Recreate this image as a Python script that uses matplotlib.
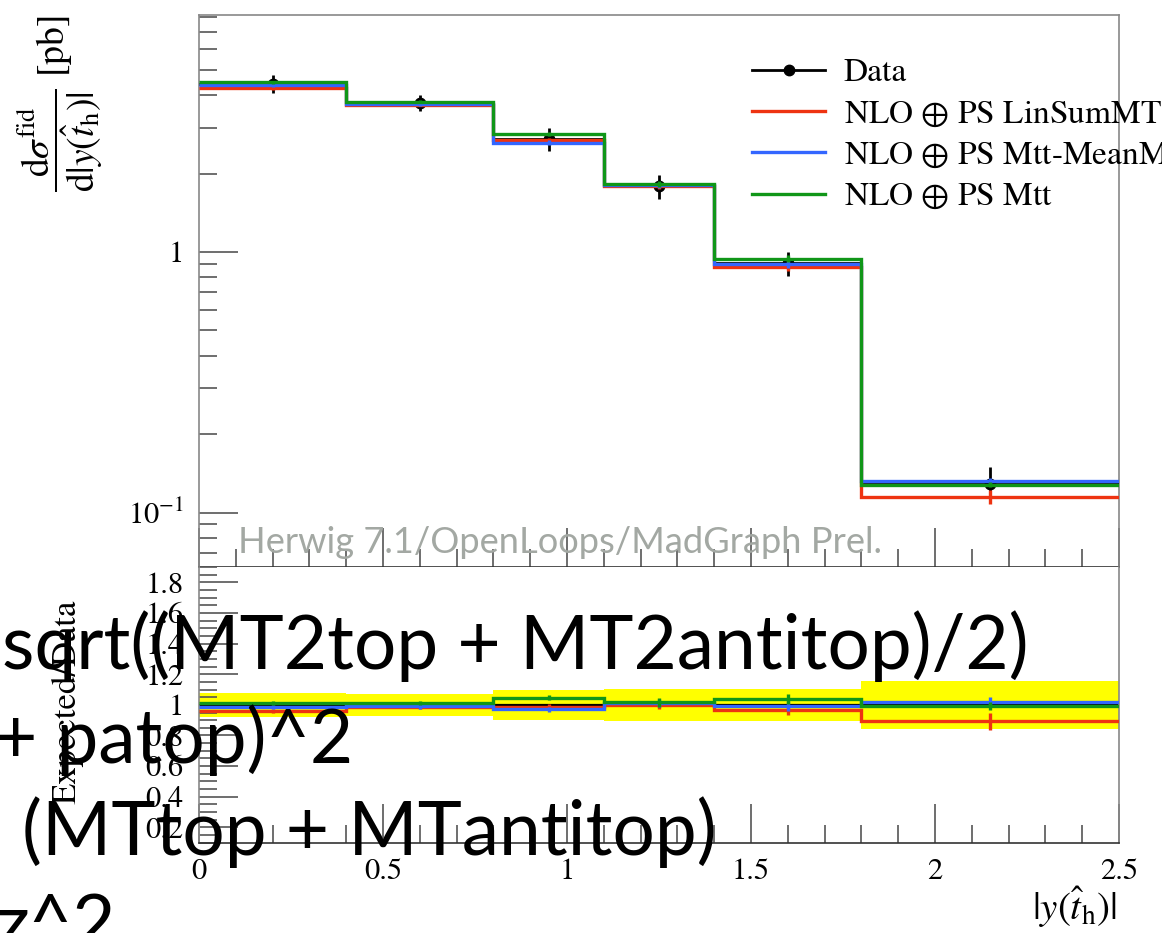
#!/usr/bin/env python3
"""Top-quark rapidity |y(t_h)|: data vs. three NLO+PS scale choices, with ratio panel."""

import matplotlib

matplotlib.use("Agg")
import matplotlib.pyplot as plt
import numpy as np
from matplotlib.lines import Line2D
from matplotlib.ticker import FixedLocator, FuncFormatter, MultipleLocator

# binning in |y(t_h)|
EDGES = [0.0, 0.4, 0.8, 1.1, 1.4, 1.8, 2.5]

# measured cross section [pb] and its uncertainty
DATA = [4.42, 3.73, 2.71, 1.79, 0.907, 0.129]
DATA_ERR = [0.35, 0.26, 0.27, 0.19, 0.095, 0.020]

# predictions [pb]
LINSUM = [4.25, 3.68, 2.68, 1.79, 0.878, 0.115]
MEANMT = [4.36, 3.69, 2.63, 1.81, 0.899, 0.1316]
MTT = [4.48, 3.77, 2.84, 1.82, 0.942, 0.128]
LINSUM_ERR = [0.06, 0.05, 0.05, 0.05, 0.03, 0.0075]
MEANMT_ERR = [0.06, 0.05, 0.05, 0.05, 0.03, 0.004]
MTT_ERR = [0.06, 0.05, 0.05, 0.05, 0.03, 0.003]

LABELS = [
    r"NLO $\oplus$ PS LinSumMT",
    r"NLO $\oplus$ PS Mtt-MeanMT",
    r"NLO $\oplus$ PS Mtt",
]
COLORS = ["#EE3311", "#3366FF", "#109618"]

SCALE_TEXT = [
    "sqrt((MT2top + MT2antitop)/2)",
    "+ patop)^2",
    "(MTtop + MTantitop)",
    "z^2",
]

W, H = 1162, 933


def fx(px):
    return px / W


def fy(py):
    return 1 - py / H


def main():
    plt.rcParams.update(
        {
            "font.family": "serif",
            "font.serif": ["STIXGeneral", "DejaVu Serif"],
            "mathtext.fontset": "stix",
            "font.size": 16,
            "axes.linewidth": 1.2,
        }
    )
    fig = plt.figure(figsize=(W / 100, H / 100), dpi=100)
    ax = fig.add_axes([fx(199), fy(567), fx(1119) - fx(199), fy(15) - fy(567)])
    rax = fig.add_axes([fx(199), fy(842.7), fx(1119) - fx(199), fy(567) - fy(842.7)])

    edges = np.array(EDGES)
    centers = 0.5 * (edges[1:] + edges[:-1])
    half = 0.5 * np.diff(edges)
    data = np.array(DATA)
    data_err = np.array(DATA_ERR)
    models = [np.array(v) for v in (LINSUM, MEANMT, MTT)]
    model_errs = [np.array(v) for v in (LINSUM_ERR, MEANMT_ERR, MTT_ERR)]

    # main panel
    ax.errorbar(centers, data, xerr=half, yerr=data_err, fmt="o", color="black",
                ms=7.5, lw=2, capsize=0, zorder=3)
    for vals, errs, color in zip(models, model_errs, COLORS):
        ax.stairs(vals, edges, baseline=None, color=color, lw=2.4, zorder=4)
        ax.errorbar(centers, vals, yerr=errs, fmt="none", ecolor=color, lw=2.4,
                    capsize=0, zorder=4)

    ax.set_yscale("log")
    ax.set_xlim(0, 2.5)
    ax.set_ylim(0.0618, 8.12)
    ax.yaxis.set_major_locator(FixedLocator([0.1, 1]))
    ax.yaxis.set_major_formatter(FuncFormatter(lambda v, _: "1" if v == 1 else r"$10^{-1}$"))
    ax.yaxis.set_minor_locator(FixedLocator([0.07, 0.08, 0.09] + [k / 10 for k in range(2, 10)]
                                            + list(range(2, 9))))
    ax.yaxis.set_minor_formatter(plt.NullFormatter())
    ax.xaxis.set_major_locator(MultipleLocator(0.5))
    ax.xaxis.set_minor_locator(MultipleLocator(0.1))
    ax.tick_params(axis="x", labelbottom=False)

    handles = [Line2D([0], [0], color="black", lw=2, marker="o", ms=7.5)]
    handles += [Line2D([0], [0], color=c, lw=2.4) for c in COLORS]
    ax.legend(handles, ["Data"] + LABELS, loc="upper left",
              bbox_to_anchor=((752 - 199) / 920, (567 - 58) / 552), frameon=False,
              fontsize=24, handlelength=2.2, handletextpad=0.55, labelspacing=0.33,
              borderaxespad=0, borderpad=0)

    fig.text(fx(238), fy(553), "Herwig 7.1/OpenLoops/MadGraph Prel.", family="Lato",
             fontsize=26.1, color="#A3A8A3", va="baseline", ha="left", zorder=10)

    # ratio panel
    rel = data_err / data
    rax.stairs(1 + rel, edges, baseline=1 - rel, fill=True, color="#FFFF00", lw=0, zorder=1)
    rax.hlines(np.ones_like(centers), edges[:-1], edges[1:], color="black", lw=1.6, zorder=2)
    for vals, errs, color in zip(models, model_errs, COLORS):
        ratio = vals / data
        rax.stairs(ratio, edges, baseline=None, color=color, lw=2.4, zorder=3)
        rax.errorbar(centers, ratio, yerr=errs / data, fmt="none", ecolor=color, lw=2.4,
                     capsize=0, zorder=3)
    rax.set_xlim(0, 2.5)
    rax.set_ylim(0.1, 1.9)
    rax.yaxis.set_major_locator(MultipleLocator(0.2))
    rax.yaxis.set_minor_locator(MultipleLocator(0.05))
    rax.yaxis.set_major_formatter(FuncFormatter(lambda v, _: f"{v:g}"))
    rax.xaxis.set_major_locator(MultipleLocator(0.5))
    rax.xaxis.set_minor_locator(MultipleLocator(0.1))
    rax.xaxis.set_major_formatter(FuncFormatter(lambda v, _: f"{v:g}"))

    for a in (ax, rax):
        a.tick_params(which="major", direction="in", length=28, width=1.2, color="#555555",
                      labelsize=22, pad=11, top=False, right=False)
        a.tick_params(which="minor", direction="in", length=13, width=1.2, color="#555555",
                      top=False, right=False)
        for side in ("left", "right", "top"):
            a.spines[side].set_color("#888888")
        a.spines["bottom"].set_color("#333333")
    rax.spines["top"].set_visible(False)

    fig.text(fx(60), fy(104), r"$\dfrac{\mathrm{d}\sigma^{\mathrm{fid}}}{\mathrm{d}|y(\hat{t}_{\mathrm{h}})|}$ [pb]",
             rotation=90, fontsize=27, ha="center", va="center")
    fig.text(fx(67), fy(702), "Expected/Data", rotation=90, fontsize=25, ha="center", va="center")
    fig.text(fx(1117), fy(907), r"$|y(\hat{t}_{\mathrm{h}})|$", fontsize=28, ha="right", va="center")

    # overlay of scale definitions
    baselines = [669, 763, 855, 948]
    lefts = [2, -6, 22, -4]
    for line, x, y in zip(SCALE_TEXT, lefts, baselines):
        fig.text(fx(x), fy(y), line, family="Lato", fontsize=53.8, color="black",
                 ha="left", va="baseline", zorder=20)

    fig.savefig("out.png", dpi=100)
    plt.close(fig)


if __name__ == "__main__":
    main()
